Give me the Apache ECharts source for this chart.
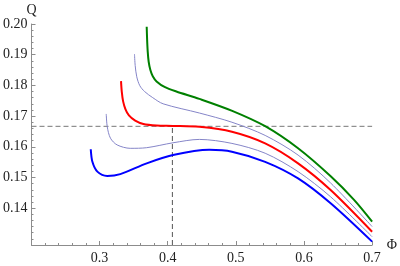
<!DOCTYPE html>
<html><head><meta charset="utf-8">
<script src="https://cdn.jsdelivr.net/npm/echarts@6/dist/echarts.min.js"></script>
<style>html,body{margin:0;padding:0;background:#fff}#c{width:400px;height:266px}</style>
</head><body><div id="c"></div>
<script>
// Data (Φ, Q)
const green = [[0.3691,0.1991],[0.3697,0.1950],[0.3706,0.1910],[0.3720,0.1877],[0.3745,0.1850],[0.3780,0.1830],[0.3836,0.1813],[0.3960,0.1794],[0.4126,0.1780],[0.4464,0.1756],[0.4946,0.1717],[0.5430,0.1667],[0.5913,0.1595],[0.6396,0.1503],[0.6735,0.1427],[0.7000,0.1356]];
const thinUpper = [[0.3512,0.1902],[0.3522,0.1865],[0.3545,0.1828],[0.3590,0.1799],[0.3660,0.1780],[0.3780,0.1760],[0.3932,0.1740],[0.4464,0.1710],[0.4942,0.1680],[0.5430,0.1637],[0.5913,0.1573],[0.6391,0.1482],[0.7000,0.1340]];
const red = [[0.3314,0.1814],[0.3325,0.1780],[0.3345,0.1748],[0.3380,0.1722],[0.3430,0.1702],[0.3522,0.1685],[0.3642,0.1674],[0.3836,0.1669],[0.4077,0.1668],[0.4464,0.1665],[0.4942,0.1649],[0.5430,0.1611],[0.5913,0.1546],[0.6391,0.1459],[0.7000,0.1323]];
const thinLower = [[0.3097,0.1707],[0.3112,0.1665],[0.3159,0.1628],[0.3257,0.1606],[0.3449,0.1595],[0.3691,0.1597],[0.4077,0.1613],[0.4464,0.1624],[0.4942,0.1611],[0.5430,0.1579],[0.5913,0.1519],[0.6391,0.1437],[0.7000,0.1307]];
const blue = [[0.2870,0.1592],[0.2894,0.1551],[0.2967,0.1519],[0.3112,0.1505],[0.3304,0.1511],[0.3691,0.1546],[0.4077,0.1573],[0.4609,0.1590],[0.4942,0.1584],[0.5430,0.1551],[0.5913,0.1497],[0.6391,0.1416],[0.7000,0.1291]];
const qCrit = 1/6;
const phiCrit = 0.4068;
const xTicks = [0.3,0.4,0.5,0.6,0.7];
const yTicks = [0.14,0.15,0.16,0.17,0.18,0.19,0.20];
const yMinorTicks = [0.130,0.132,0.134,0.136,0.138,0.142,0.144,0.146,0.148,0.152,0.154,0.156,0.158,0.162,0.164,0.166,0.168,0.172,0.174,0.176,0.178,0.182,0.184,0.186,0.188,0.192,0.194,0.196,0.198];
const xMin = 0.2, xMax = 0.7, yMin = 0.128, yMax = 0.2;

const chart = echarts.init(document.getElementById('c'), null, {renderer:'canvas'});
const axisColor = '#8c8c8c';
const font = '"Liberation Serif", "DejaVu Serif", serif';
function curve(data, color, width){
  return {type:'line', data:data, showSymbol:false, smooth:0.3,
    lineStyle:{color:color, width:width}, silent:true, z:3};
}
chart.setOption({
  animation:false,
  backgroundColor:'#fff',
  grid:{left:30, right:25, top:24, bottom:21, containLabel:false},
  xAxis:{type:'value', min:xMin, max:xMax, interval:0.1,
    name:'Φ', nameLocation:'end', nameGap:6,
    nameTextStyle:{fontFamily:font, fontSize:14, color:'#222'},
    axisLine:{show:true, onZero:false, lineStyle:{color:axisColor, width:1}},
    axisTick:{show:true, inside:true, length:4, lineStyle:{color:axisColor}},
    minorTick:{show:true, splitNumber:5, length:2, lineStyle:{color:axisColor}},
    axisLabel:{customValues:xTicks, formatter:v=>v.toFixed(1), fontFamily:font, fontSize:14, color:'#222', margin:6},
    splitLine:{show:false}, minorSplitLine:{show:false}},
  yAxis:[{type:'value', min:yMin, max:yMax,
    name:'Q', nameLocation:'end', nameGap:5,
    nameTextStyle:{fontFamily:font, fontSize:14, color:'#222', align:'center'},
    axisLine:{show:true, onZero:false, lineStyle:{color:axisColor, width:1}},
    axisTick:{show:true, inside:true, length:4, customValues:yTicks, lineStyle:{color:axisColor}},
    axisLabel:{customValues:yTicks, formatter:v=>v.toFixed(2), fontFamily:font, fontSize:14, color:'#222', margin:4},
    splitLine:{show:false}},
   {type:'value', min:yMin, max:yMax, position:'left', offset:0,
    axisLine:{show:false, onZero:false},
    axisTick:{show:true, inside:true, length:2, customValues:yMinorTicks, lineStyle:{color:axisColor}},
    axisLabel:{show:false}, splitLine:{show:false}}],
  series:[
    curve(blue,'#0000ff',2),
    curve(thinLower,'#8585c8',1),
    curve(red,'#ff0000',2),
    curve(thinUpper,'#8585c8',1),
    curve(green,'#008000',2),
    {type:'line', data:[[xMin,qCrit],[xMax,qCrit]], showSymbol:false, silent:true,
      lineStyle:{color:'#777', width:1, type:[5,3]}, z:2},
    {type:'line', data:[[phiCrit,yMin],[phiCrit,qCrit]], showSymbol:false, silent:true,
      lineStyle:{color:'#555', width:1, type:[5,3]}, z:2}
  ]
});
</script></body></html>
